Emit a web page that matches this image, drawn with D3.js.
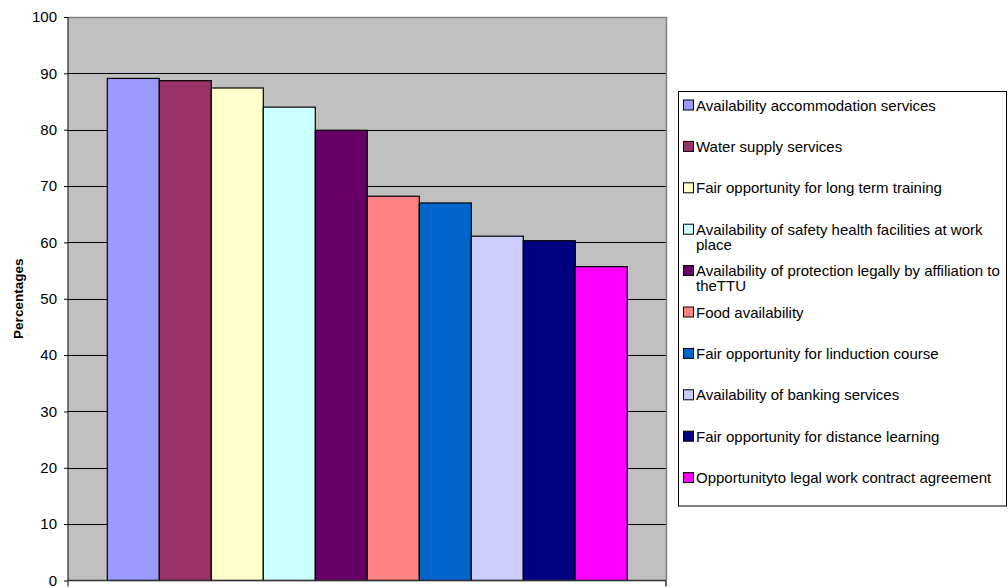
<!DOCTYPE html>
<html>
<head>
<meta charset="utf-8">
<script src="https://cdn.jsdelivr.net/npm/d3@7"></script>
<style>
  html, body { margin: 0; padding: 0; background: #fff; }
  svg { display: block; font-family: "Liberation Sans", Arial, sans-serif; }
</style>
</head>
<body>
<svg id="chart" width="1008" height="588"></svg>
<script>
// Share of respondents satisfied with each working condition (%)
const categories = [
  "Availability accommodation services",
  "Water supply services",
  "Fair opportunity for long term training",
  "Availability of safety health facilities at work place",
  "Availability of protection legally by affiliation to theTTU",
  "Food availability",
  "Fair opportunity for linduction course",
  "Availability of banking services",
  "Fair opportunity for distance learning",
  "Opportunityto legal work contract agreement"
];
const values = [89.1, 88.7, 87.4, 84.0, 79.9, 68.2, 67.0, 61.1, 60.3, 55.7];
const colors = ["#9999FF", "#993366", "#FFFFCC", "#CCFFFF", "#660066",
                "#FF8080", "#0066CC", "#CCCCFF", "#000080", "#FF00FF"];
const yTicks = [0, 10, 20, 30, 40, 50, 60, 70, 80, 90, 100];
// legend lines, wrapped as in the legend box
const legendLines = [
  ["Availability accommodation services"],
  ["Water supply services"],
  ["Fair opportunity for long term training"],
  ["Availability of safety health facilities at work", "place"],
  ["Availability of protection legally by affiliation to", "theTTU"],
  ["Food availability"],
  ["Fair opportunity for linduction course"],
  ["Availability of banking services"],
  ["Fair opportunity for distance learning"],
  ["Opportunityto legal work contract agreement"]
];

const svg = d3.select("#chart");
const plot = { left: 68, right: 666, top: 17, bottom: 580.5 };

const y = d3.scaleLinear().domain([0, 100]).range([plot.bottom, plot.top]);
// one category holding ten series, with a gap on either side
const x = d3.scaleBand().domain(d3.range(values.length))
  .range([107.3, 627.3]).padding(0);

// plot background
svg.append("rect")
  .attr("x", plot.left).attr("y", plot.top)
  .attr("width", plot.right - plot.left).attr("height", plot.bottom - plot.top)
  .attr("fill", "#C0C0C0");

// gridlines
svg.append("g").selectAll("line").data(yTicks.filter(d => d > 0 && d < 100)).join("line")
  .attr("x1", plot.left).attr("x2", plot.right)
  .attr("y1", d => Math.round(y(d)) + 0.5).attr("y2", d => Math.round(y(d)) + 0.5)
  .attr("stroke", "#000").attr("stroke-width", 1);

// plot frame (top and right)
svg.append("path")
  .attr("d", `M${plot.left},${plot.top + 0.5}H${plot.right + 0.5}V${plot.bottom}`)
  .attr("fill", "none").attr("stroke", "#808080").attr("stroke-width", 1.5);

// bars
svg.append("g").selectAll("rect").data(values).join("rect")
  .attr("x", (d, i) => x(i))
  .attr("y", d => y(d))
  .attr("width", x.bandwidth())
  .attr("height", d => y(0) - y(d))
  .attr("fill", (d, i) => colors[i])
  .attr("stroke", "#000").attr("stroke-width", 1.2);

// value axis
const yAxis = d3.axisLeft(y).tickValues(yTicks).tickSize(4).tickPadding(7);
const ya = svg.append("g").attr("transform", `translate(${plot.left},0)`).call(yAxis);
ya.select(".domain").attr("d", `M0,${plot.top}V${plot.bottom + 6}`).attr("stroke", "#000");
ya.selectAll(".tick line").attr("stroke", "#000");
ya.selectAll("text").attr("font-size", 15).attr("fill", "#000")
  .attr("font-family", "Liberation Sans, Arial, sans-serif");

// category axis with end ticks
svg.append("path")
  .attr("d", `M${plot.left},${plot.bottom}H${plot.right}M${plot.right},${plot.bottom}V${plot.bottom + 6}`)
  .attr("stroke", "#333").attr("stroke-width", 1.5).attr("fill", "none");

// axis title
svg.append("text")
  .attr("transform", `translate(23,${(plot.top + plot.bottom) / 2}) rotate(-90)`)
  .attr("text-anchor", "middle")
  .attr("font-size", 13.5).attr("font-weight", "bold")
  .text("Percentages");

// legend
const legend = svg.append("g");
legend.append("rect")
  .attr("x", 678.5).attr("y", 91.5).attr("width", 328).attr("height", 414.5)
  .attr("fill", "#fff").attr("stroke", "#000").attr("stroke-width", 1);

const rowStep = 41.4;
const items = legend.selectAll("g.item").data(legendLines).join("g")
  .attr("class", "item")
  .attr("transform", (d, i) => `translate(683,${105 + i * rowStep})`);
items.append("rect")
  .attr("x", 0.5).attr("y", -5).attr("width", 10).attr("height", 10)
  .attr("fill", (d, i) => colors[i]).attr("stroke", "#000").attr("stroke-width", 1);
items.append("text")
  .attr("x", 13).attr("y", 5.5)
  .attr("font-size", 15).attr("fill", "#000")
  .selectAll("tspan").data(d => d).join("tspan")
  .attr("x", 13).attr("dy", (d, i) => i === 0 ? 0 : 15)
  .text(d => d);
</script>
</body>
</html>
